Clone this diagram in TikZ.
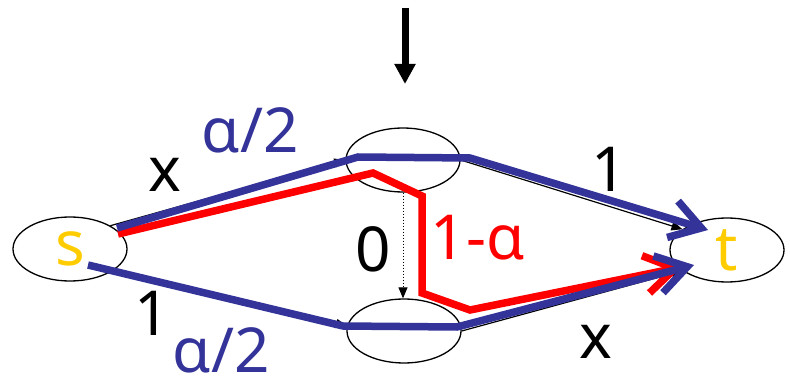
\documentclass[tikz,border=0pt]{standalone}
\usepackage{fontspec}
\setmainfont{Noto Sans}
\usetikzlibrary{arrows.meta,shapes.geometric}
\definecolor{flowblue}{RGB}{51,51,153}
\definecolor{flowred}{RGB}{255,0,0}
\definecolor{nodeyellow}{RGB}{255,204,0}
\begin{document}
\begin{tikzpicture}[x=1pt,y=-1pt,
  vertex/.style={draw, ellipse, line width=1.3pt, minimum width=114pt, minimum height=64pt, inner sep=0pt,
                 font=\fontsize{62}{62}\selectfont, text=nodeyellow},
  edge/.style={line width=1.2pt, -{Triangle[length=11pt,width=9pt]}},
  flow/.style={line width=7.5pt, -{Straight Barb[length=30pt,width=38pt]}},
  inflow/.style={line width=7pt, -{Triangle[length=20pt,width=20pt]}},
  lbl/.style={font=\fontsize{62}{62}\selectfont, anchor=base, inner sep=0pt},
]
\useasboundingbox (0,0) rectangle (790,382);

\node[vertex] (s) at (70,249) {s};
\node[vertex] (u) at (403,160) {};
\node[vertex] (v) at (404,331) {};
\node[vertex] (t) at (727,250) {t};

% graph edges
\draw[edge] (s.30) -- (u.west);
\draw[edge] (s.-28) -- (v.175);
\draw[edge] (u.east) -- (t.155);
\draw[edge] (v.east) -- (t.205);
\draw[edge, line width=1pt, dotted] (u.south) -- (u.south |- v.north);

% incoming arrow
\coordinate (in0) at (405,8);
\coordinate (in1) at (405,84);
\draw[inflow] (in0) -- (in1);

% flow paths
\coordinate (r0) at (118,234);
\coordinate (r1) at (373,173);
\coordinate (r2) at (422,196);
\coordinate (r3) at (422,293);
\coordinate (r4) at (470,310);
\coordinate (r5) at (682,267);
\draw[flow, flowred] (r0) -- (r1) -- (r2) -- (r3) -- (r4) -- (r5);

\coordinate (bu0) at (117,228);
\coordinate (bu1) at (358,157);
\coordinate (bu2) at (470,158);
\coordinate (bu3) at (708,230);
\draw[flow, flowblue] (bu0) -- (bu1) -- (bu2) -- (bu3);

\coordinate (bl0) at (88,265);
\coordinate (bl1) at (343,326);
\coordinate (bl2) at (457,327);
\coordinate (bl3) at (694,265);
\draw[flow, flowblue] (bl0) -- (bl1) -- (bl2) -- (bl3);

% labels
\node[lbl] (lx1) at (165,192) {x};
\node[lbl, text=flowblue] (la1) at (250,153) {α/2};
\node[lbl] (l11) at (152,335) {1};
\node[lbl, text=flowblue] (la2) at (221,372) {α/2};
\node[lbl] (l0) at (373,272) {0};
\node[lbl, text=flowred] (l1a) at (478,260) {1-α};
\node[lbl] (l12) at (609,192) {1};
\node[lbl] (lx2) at (596,358) {x};
\end{tikzpicture}
\end{document}
